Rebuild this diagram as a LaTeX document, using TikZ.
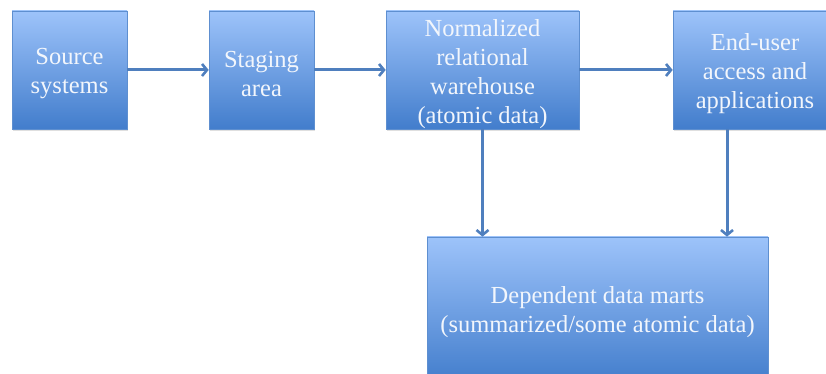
\documentclass[tikz,border=0pt]{standalone}
\usepackage{fontspec}
\setmainfont{Liberation Serif}
\usetikzlibrary{arrows.meta,shadows}

\definecolor{boxtop}{HTML}{9DC3FA}
\definecolor{boxbot}{HTML}{427DCC}
\definecolor{boxline}{HTML}{5E8FD0}
\definecolor{arrowblue}{HTML}{4F7FBE}
\definecolor{labeltext}{HTML}{F2F6FC}

\tikzset{
  stagebox/.style={
    rectangle, draw=boxline, line width=0.6pt,
    top color=boxtop, bottom color=boxbot,
    drop shadow={shadow xshift=1.2pt, shadow yshift=-1.8pt, opacity=0.25},
    inner sep=0pt
  },
  stagetext/.style={
    text=labeltext, align=center, inner sep=0pt,
    font=\fontsize{24.5}{29}\selectfont
  },
  flow/.style={
    draw=arrowblue, line width=3pt,
    -{Straight Barb[length=5pt,width=12pt,line width=2.6pt]}
  }
}

\begin{document}
\begin{tikzpicture}[x=1pt,y=1pt]
  \useasboundingbox (0,0) rectangle (826,374);
  \clip (0,0) rectangle (826,374);

  % boxes
  \node[stagebox, minimum width=115pt, minimum height=118pt] (src) at (69.5,304) {};
  \node[stagebox, minimum width=105pt, minimum height=118pt] (stg) at (261.5,304) {};
  \node[stagebox, minimum width=193pt, minimum height=118pt] (nrw) at (482.5,304) {};
  \node[stagebox, minimum width=164pt, minimum height=118pt] (eua) at (755,304) {};
  \node[stagebox, minimum width=341pt, minimum height=146pt] (ddm) at (597.5,64) {};

  % labels
  \node[stagetext] (srcT) at ([yshift=-4pt]src.center) {Source\\systems};
  \node[stagetext] (stgT) at ([yshift=-4pt]stg.center) {Staging\\area};
  \node[stagetext] (nrwT) at ([yshift=-4pt]nrw.center) {Normalized\\relational\\warehouse\\(atomic data)};
  \node[stagetext] (euaT) at ([yshift=-4pt]eua.center) {End-user\\access and\\applications};
  \node[stagetext] (ddmT) at ([yshift=-2pt]ddm.center) {Dependent data marts\\(summarized/some atomic data)};

  % connectors
  \draw[flow] (src.east) -- (stg.west);
  \draw[flow] (stg.east) -- (nrw.west);
  \draw[flow] (nrw.east) -- (eua.west);
  \draw[flow] (nrw.south) -- (nrw.south |- ddm.north);
  \draw[flow] ([xshift=-28pt]eua.south) -- ([xshift=-28pt]eua.south |- ddm.north);
\end{tikzpicture}
\end{document}
